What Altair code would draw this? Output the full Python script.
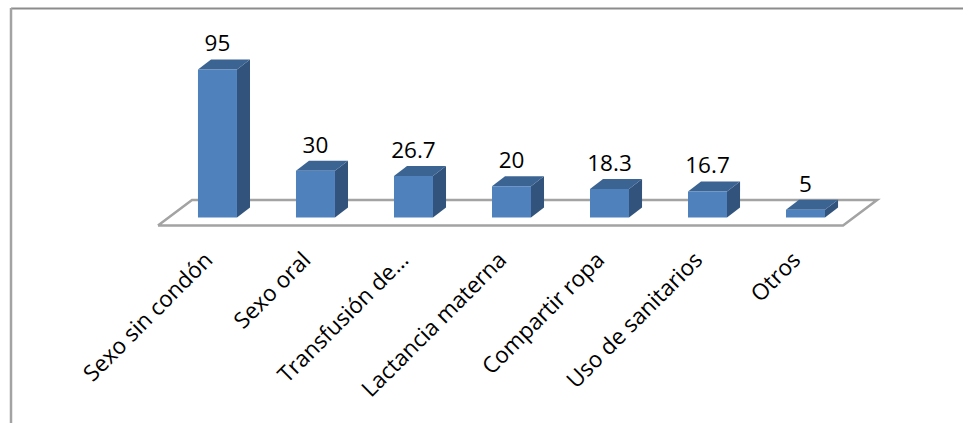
import json
import altair as alt
import pandas as pd

categories = ["Sexo sin condón", "Sexo oral", "Transfusión de…", "Lactancia materna",
              "Compartir ropa", "Uso de sanitarios", "Otros"]
values = [95, 30, 26.7, 20, 18.3, 16.7, 5]
value_labels = ["95", "30", "26.7", "20", "18.3", "16.7", "5"]

# Pseudo-3D proportions, in data units of each axis
HALF_W = 0.199
DEPTH_X = 0.133
DEPTH_Y = 6.42

FONT = "Open Sans"
W, H = 963, 235
x_scale = alt.Scale(domain=[-2.219, 7.607], nice=False, zero=False)
y_scale = alt.Scale(domain=[-11.23, 139.6], nice=False, zero=False)

front, side, top, labels = [], [], [], []
for i, (cat, v, lab) in enumerate(zip(categories, values, value_labels)):
    l, r = i - HALF_W, i + HALF_W
    front.append(dict(cat=cat, x=l, x2=r, y=0, y2=v))
    side += [dict(cat=cat, x=r, y=0, y2=v),
             dict(cat=cat, x=r + DEPTH_X, y=DEPTH_Y, y2=v + DEPTH_Y)]
    top += [dict(cat=cat, x=l, y=v, y2=v),
            dict(cat=cat, x=l + DEPTH_X, y=v, y2=v + DEPTH_Y),
            dict(cat=cat, x=r, y=v, y2=v + DEPTH_Y),
            dict(cat=cat, x=r + DEPTH_X, y=v + DEPTH_Y, y2=v + DEPTH_Y)]
    labels.append(dict(cat=cat, x=i, y=v + DEPTH_Y, text=lab))

# Outline of the chart floor, closed back to its first corner
floor_x = [-0.607, 6.383, 6.73, -0.26, -0.607]
floor_y = [-5.13, -5.13, 11.2, 11.2, -5.13]
floor_df = pd.DataFrame({"x": floor_x, "y": floor_y, "k": range(5)})

X = alt.X("x:Q", scale=x_scale, title=None, axis=alt.Axis(
    values=list(range(len(categories))),
    labelExpr=f"{json.dumps(categories, ensure_ascii=False)}[datum.value]",
    labelAngle=-45, labelAlign="right", labelBaseline="middle",
    labelFont=FONT, labelFontSize=22.5, labelColor="#000000",
    labelPadding=21, labelOffset=-9, labelOverlap=False, labelBound=False, labelFlush=False,
    labelLimit=300, domain=False, ticks=False, grid=False))
X_plain = alt.X("x:Q", scale=x_scale, title=None)
Y = alt.Y("y:Q", scale=y_scale, title=None, axis=None)

floor = alt.Chart(floor_df).mark_line(color="#A3A3A3", strokeWidth=2.5, strokeJoin="miter").encode(
    x=X, y=Y, order="k:Q")

front_bars = alt.Chart(pd.DataFrame(front)).mark_rect(color="#4F81BD").encode(
    x=X_plain, x2="x2:Q", y=Y, y2="y2:Q")

side_faces = alt.Chart(pd.DataFrame(side)).mark_area(color="#31537C").encode(
    x=X_plain, y=Y, y2="y2:Q", detail="cat:N")

top_faces = alt.Chart(pd.DataFrame(top)).mark_area(color="#3B6493").encode(
    x=X_plain, y=Y, y2="y2:Q", detail="cat:N")

value_text = alt.Chart(pd.DataFrame(labels)).mark_text(
    font=FONT, fontSize=22.5, color="#000000", baseline="alphabetic", align="center", dy=-8
).encode(x=X_plain, y=Y, text="text:N")

# Frame of the chart: only its top and left edges are drawn
frame_top = alt.Chart(pd.DataFrame({"a": [0]})).mark_rule(color="#8C8C8C", strokeWidth=2).encode(
    x=alt.value(11), x2=alt.value(963), y=alt.value(8.5))
frame_left = alt.Chart(pd.DataFrame({"a": [0]})).mark_rule(color="#A3A3A3", strokeWidth=2.5).encode(
    x=alt.value(11), y=alt.value(8), y2=alt.value(423))

chart = alt.layer(
    floor, side_faces, top_faces, front_bars, value_text, frame_top, frame_left
).properties(
    width=W, height=H, background="white",
    autosize=alt.AutoSizeParams(type="none"),
    padding={"left": 0, "top": 0, "right": 0, "bottom": 423 - H},
).configure_view(stroke=None)

chart.save("out.html", embed_options={"renderer": "svg", "actions": False})
